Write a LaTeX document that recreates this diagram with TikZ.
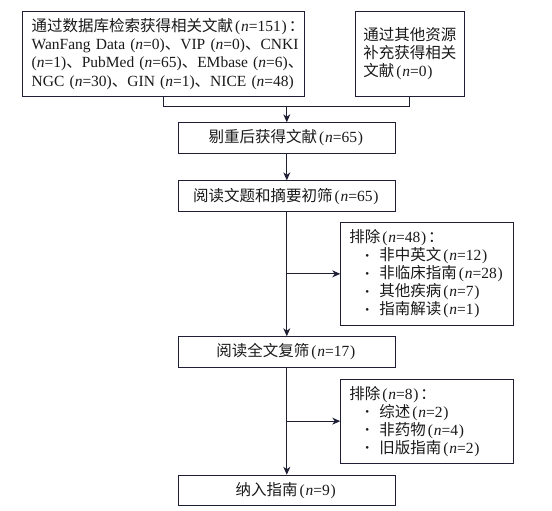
\documentclass[tikz,border=0pt]{standalone}
\usepackage{fontspec}
\setmainfont{Liberation Serif}
\newfontfamily\cjk{Noto Sans CJK SC}
\usetikzlibrary{arrows.meta}
\definecolor{linec}{RGB}{30,30,52}
\definecolor{textc}{RGB}{25,25,25}
\newcommand\zh[1]{{\cjk #1}}
\newcommand\nv[1]{(\textit{n}=#1)}
\newcommand\nvz[1]{\kern2pt(\kern0.8pt\textit{n}=#1\kern0.8pt)\kern2pt}
\newcommand\bul{\hspace*{16pt}\makebox[14pt][l]{\raisebox{1.5pt}{\fontsize{11}{11}\selectfont\textbullet}}}
\begin{document}
\begin{tikzpicture}[x=1pt,y=-1pt,
  every node/.style={text=textc,font=\fontsize{15.5}{18.2}\selectfont},
  box/.style={draw=linec,line width=0.9pt,inner sep=0pt,minimum width=217pt,minimum height=30.6pt,align=center},
  listbox/.style={draw=linec,line width=0.9pt,inner xsep=8.6pt,inner ysep=0pt,text width=155.4pt,align=left,font=\fontsize{15.5}{18}\selectfont},
  conn/.style={draw=linec,line width=0.9pt},
  arr/.style={conn,-{Stealth[length=8pt,width=7pt,inset=2.5pt]}}]
\useasboundingbox (0,0) rectangle (552,511);
\node[draw=linec,line width=0.9pt,inner xsep=9pt,inner ysep=0pt,text width=263.3pt,minimum height=84.3pt,align=left] (A) at (163.35,53.85)
  {\zh{通过数据库检索获得相关文献}\nvz{151}\zh{：}\\
   WanFang~Data~\nv{0}\zh{、}VIP~\nv{0}\zh{、}CNKI\\
   \nv{1}\zh{、}PubMed~\nv{65}\zh{、}EMbase~\nv{6}\zh{、}\\
   NGC~\nv{30}\zh{、}GIN~\nv{1}\zh{、}NICE~\nv{48}};
\node[draw=linec,line width=0.9pt,inner sep=0pt,minimum width=108.3pt,minimum height=84.3pt,align=left] (B) at (409.85,53.85)
  {\zh{通过其他资源}\\\zh{补充获得相关}\\\zh{文献}\nvz{0}};
\node[box] (C) at (286.8,138) {\zh{剔重后获得文献}\nvz{65}};
\node[box] (D) at (286.8,196.1) {\zh{阅读文题和摘要初筛}\nvz{65}};
\node[listbox,minimum height=102.3pt] (E) at (427,273.85)
  {\zh{排除}\nvz{48}\zh{：}\\
   \bul\zh{非中英文}\nvz{12}\\
   \bul\zh{非临床指南}\nvz{28}\\
   \bul\zh{其他疾病}\nvz{7}\\
   \bul\zh{指南解读}\nvz{1}};
\node[box] (F) at (286.8,352) {\zh{阅读全文复筛}\nvz{17}};
\node[listbox,minimum height=84.3pt] (G) at (427,421.15)
  {\zh{排除}\nvz{8}\zh{：}\\
   \bul\zh{综述}\nvz{2}\\
   \bul\zh{非药物}\nvz{4}\\
   \bul\zh{旧版指南}\nvz{2}};
\node[box] (H) at (286.8,490.5) {\zh{纳入指南}\nvz{9}};
\coordinate (j) at (286.8,106);
\draw[conn] (A.south) |- (j);
\draw[conn] (B.south) |- (j);
\draw[arr] (j) -- (C.north);
\draw[arr] (C.south) -- (D.north);
\draw[arr] (D.south) -- (F.north);
\draw[arr] (D.south |- E.west) -- (E.west);
\draw[arr] (F.south) -- (H.north);
\draw[arr] (F.south |- G.west) -- (G.west);
\end{tikzpicture}
\end{document}
